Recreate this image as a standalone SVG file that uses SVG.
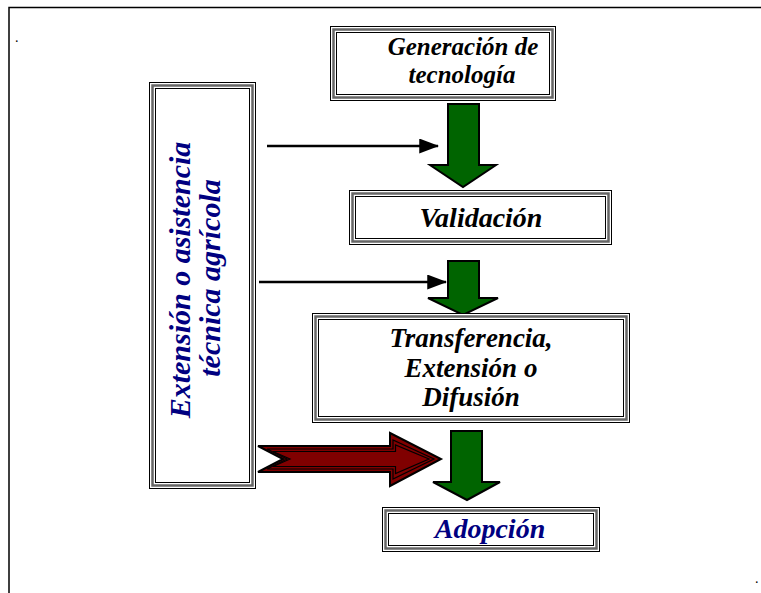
<svg xmlns="http://www.w3.org/2000/svg" width="761" height="593" viewBox="0 0 761 593">
<style>
.o{fill:#fff;stroke:#000;stroke-width:1}
.m{fill:none;stroke:#666;stroke-width:2.5}
.i{fill:none;stroke:#000;stroke-width:1}
.g{fill:#006400;stroke:#000;stroke-width:2;stroke-linejoin:miter}
.ln{stroke:#000;stroke-width:2.5;fill:none}
</style>
<defs>
<marker id="ah" markerWidth="8" markerHeight="6" refX="7.5" refY="3" orient="auto" markerUnits="strokeWidth">
<path d="M0,0 L8,3 L0,6 Z" fill="#000"/>
</marker>
</defs>
<rect width="761" height="593" fill="#fff"/>
<path d="M9,593 V7.5 H761" fill="none" stroke="#000" stroke-width="1.5"/>
<text x="15" y="42" font-family="Liberation Serif" font-size="14">.</text>
<text x="755" y="583" font-family="Liberation Serif" font-size="14">.</text>

<g id="connectors">
<line class="ln" x1="267" y1="146" x2="438" y2="146" marker-end="url(#ah)"/>
<line class="ln" x1="259" y1="282" x2="446" y2="282" marker-end="url(#ah)"/>
<polygon class="g" points="448,104 479,104 479,165 496,165 463,187 430,165 448,165"/>
<polygon class="g" points="448,261 479,261 479,298 498,298 463,315 428,298 448,298"/>
<polygon class="g" points="451,431 482,431 482,482 500,482 467,500 433,482 451,482"/>
<g id="red-arrow">
<polygon points="258,446 390,446 390,433 441,459 390,486 390,472 258,472 283,459" fill="#800000" stroke="#000" stroke-width="2" stroke-linejoin="miter"/>
<polygon points="267,449 393,449 393,440 434,459 393,479 393,469 267,469 287,459" fill="none" stroke="#000" stroke-width="1.2"/>
<polygon points="273,451.5 395.5,451.5 395.5,445 429,459 395.5,473.5 395.5,466.5 273,466.5 290,459" fill="none" stroke="#000" stroke-width="1.2"/>
</g>
</g>

<g id="extension">
<rect class="o" x="149.5" y="82.5" width="106" height="406"/>
<rect class="m" x="152.5" y="85.5" width="100" height="400"/>
<rect class="i" x="155.5" y="88.5" width="94" height="394"/>
<text font-family="Liberation Serif" font-weight="bold" font-style="italic" font-size="30" text-anchor="middle" fill="#000080" transform="translate(190,280) rotate(-90)">Extensión o asistencia</text>
<text font-family="Liberation Serif" font-weight="bold" font-style="italic" font-size="30" text-anchor="middle" fill="#000080" transform="translate(220,278) rotate(-90)">técnica agrícola</text>
</g>

<g id="generacion">
<rect class="o" x="330.5" y="26.5" width="225" height="74"/>
<rect class="m" x="333.5" y="29.5" width="219" height="68"/>
<rect class="i" x="336.5" y="32.5" width="213" height="62"/>
<text font-family="Liberation Serif" font-weight="bold" font-style="italic" font-size="25" text-anchor="middle" x="463" y="55">Generación de</text>
<text font-family="Liberation Serif" font-weight="bold" font-style="italic" font-size="25" text-anchor="middle" x="462" y="83">tecnología</text>
</g>

<g id="validacion">
<rect class="o" x="349.5" y="190.5" width="262" height="54"/>
<rect class="m" x="352.5" y="193.5" width="256" height="48"/>
<rect class="i" x="355.5" y="196.5" width="250" height="42"/>
<text font-family="Liberation Serif" font-weight="bold" font-style="italic" font-size="28" text-anchor="middle" x="481" y="227">Validación</text>
</g>

<g id="transferencia">
<rect class="o" x="312.5" y="313.5" width="317" height="109"/>
<rect class="m" x="315.5" y="316.5" width="311" height="103"/>
<rect class="i" x="318.5" y="319.5" width="305" height="97"/>
<text font-family="Liberation Serif" font-weight="bold" font-style="italic" font-size="27" text-anchor="middle" x="471" y="347">Transferencia,</text>
<text font-family="Liberation Serif" font-weight="bold" font-style="italic" font-size="27" text-anchor="middle" x="471" y="377">Extensión o</text>
<text font-family="Liberation Serif" font-weight="bold" font-style="italic" font-size="27" text-anchor="middle" x="471" y="406">Difusión</text>
</g>

<g id="adopcion">
<rect class="o" x="382.5" y="507.5" width="217" height="44"/>
<rect class="m" x="385.5" y="510.5" width="211" height="38"/>
<rect class="i" x="388.5" y="513.5" width="205" height="32"/>
<text font-family="Liberation Serif" font-weight="bold" font-style="italic" font-size="28" text-anchor="middle" fill="#000080" x="490" y="538">Adopción</text>
</g>
</svg>
